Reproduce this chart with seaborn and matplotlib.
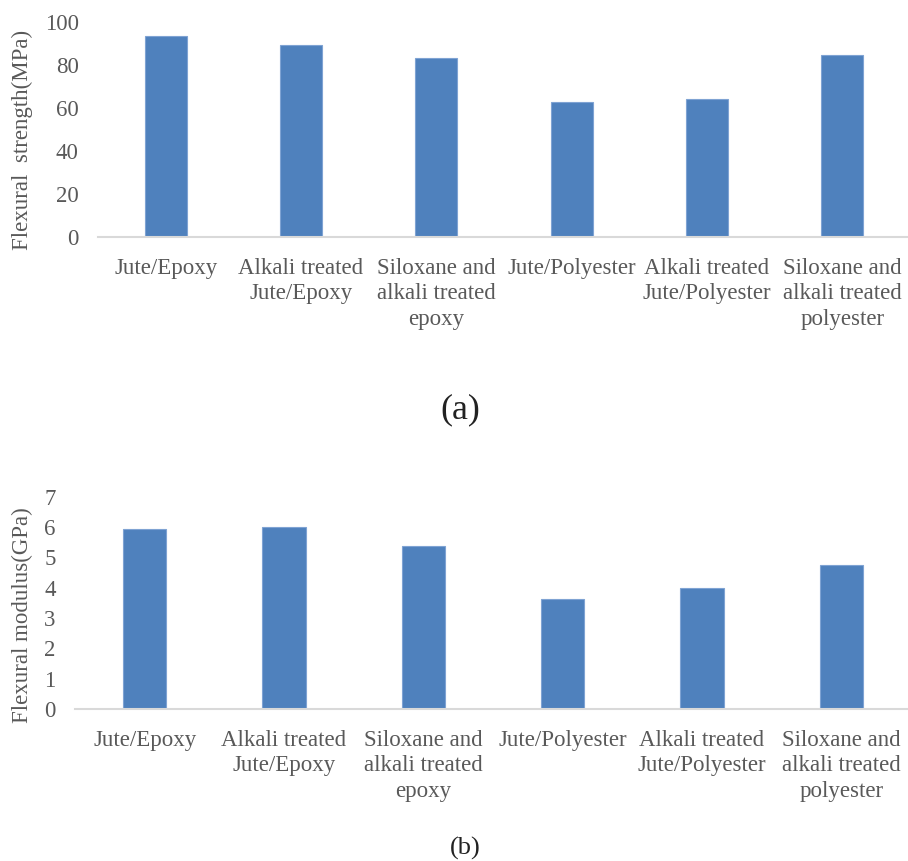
import pandas as pd
import matplotlib.pyplot as plt
import seaborn as sns

categories = ['Jute/Epoxy', 'Alkali treated\nJute/Epoxy', 'Siloxane and\nalkali treated\nepoxy',
              'Jute/Polyester', 'Alkali treated\nJute/Polyester', 'Siloxane and\nalkali treated\npolyester']
strength = [93.5, 89.3, 83.3, 62.6, 64.0, 84.5]
modulus = [5.93, 6.0, 5.37, 3.64, 4.0, 4.76]

sns.set_style('white')
plt.rcParams['font.family'] = ['Liberation Serif', 'DejaVu Serif']

BAR = '#4F81BD'
GREY = '#595959'

fig = plt.figure(figsize=(9.08, 8.61), dpi=100)
ax1 = fig.add_axes([98 / 908, 1 - 237 / 861, 812 / 908, 215 / 861])
ax2 = fig.add_axes([75 / 908, 1 - 709 / 861, 836 / 908, 212.3 / 861])


def draw(ax, values, ylim, ticks, ylabel, ylab_y):
    df = pd.DataFrame({'cat': categories, 'val': values})
    sns.barplot(data=df, x='cat', y='val', ax=ax, color=BAR, width=0.31,
                edgecolor='#7FA3D3', linewidth=0.8, saturation=1)
    ax.set_xlim(-0.5, 5.5)
    ax.set_ylim(*ylim)
    ax.set_yticks(ticks)
    ax.set_xlabel('')
    ax.set_ylabel('')
    for s in ['top', 'right', 'left']:
        ax.spines[s].set_visible(False)
    ax.spines['bottom'].set_color('#D9D9D9')
    ax.spines['bottom'].set_linewidth(1.5)
    ax.tick_params(axis='both', length=0, labelsize=16.5, colors=GREY)
    ax.tick_params(axis='y', pad=14)
    ax.tick_params(axis='x', pad=15)
    for lbl in ax.get_xticklabels():
        lbl.set_multialignment('center')
        lbl.set_linespacing(1.28)
    fig.text(22 / 908, ylab_y, ylabel, rotation=90, ha='center', va='center',
             fontsize=16.5, color=GREY)


draw(ax1, strength, (0, 100), [0, 20, 40, 60, 80, 100], 'Flexural  strength(MPa)', 1 - 140 / 861)
draw(ax2, modulus, (0, 7), range(0, 8), 'Flexural modulus(GPa)', 1 - 615 / 861)

fig.text(460 / 908, 1 - 410 / 861, '(a)', ha='center', va='center', fontsize=26, color='#222222')
fig.text(465 / 908, 1 - 848 / 861, '(b)', ha='center', va='center', fontsize=19, color='#222222')

fig.savefig('out.png', dpi=100)
